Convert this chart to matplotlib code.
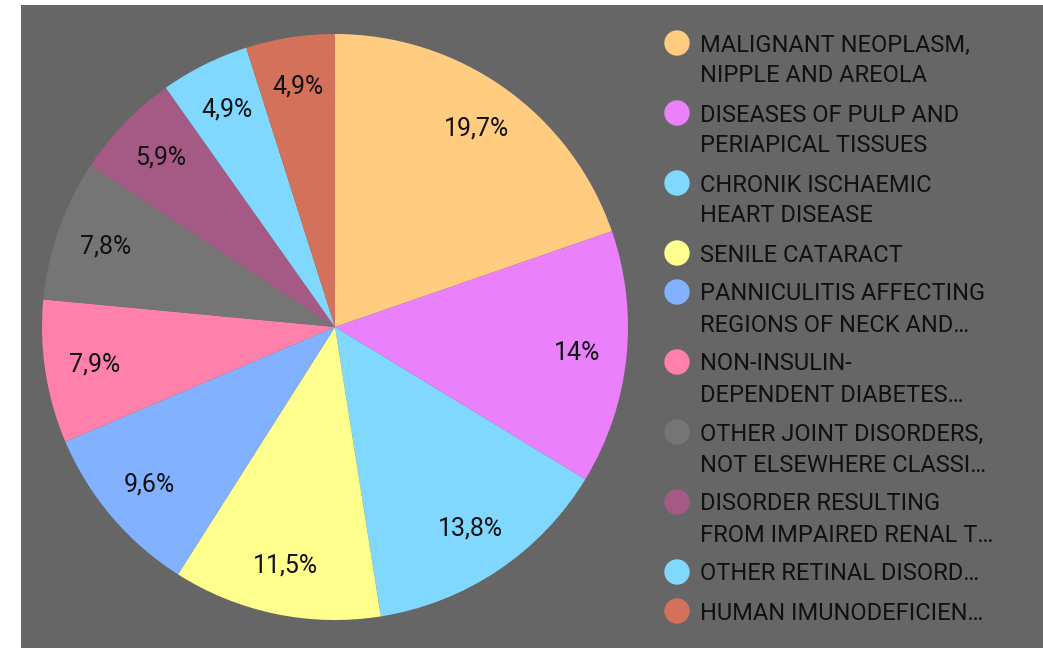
import matplotlib.pyplot as plt
from matplotlib.patches import Ellipse
import numpy as np

plt.rcParams['font.family'] = ['Roboto', 'DejaVu Sans']

# data
labels = [
    "MALIGNANT NEOPLASM,\nNIPPLE AND AREOLA",
    "DISEASES OF PULP AND\nPERIAPICAL TISSUES",
    "CHRONIK ISCHAEMIC\nHEART DISEASE",
    "SENILE CATARACT",
    "PANNICULITIS AFFECTING\nREGIONS OF NECK AND…",
    "NON-INSULIN-\nDEPENDENT DIABETES…",
    "OTHER JOINT DISORDERS,\nNOT ELSEWHERE CLASSI…",
    "DISORDER RESULTING\nFROM IMPAIRED RENAL T…",
    "OTHER RETINAL DISORD…",
    "HUMAN IMUNODEFICIEN…",
]
values = [19.7, 14, 13.8, 11.5, 9.6, 7.9, 7.8, 5.9, 4.9, 4.9]
colors = ["#FFCC80", "#EA80FC", "#80D8FF", "#FFFF8D", "#82B1FF",
          "#FF80AB", "#757575", "#A55A85", "#80D8FF", "#D4715A"]

W, H = 1043, 648
FS = 18       # slice labels
FS_LEG = 17   # legend
fig = plt.figure(figsize=(W / 100, H / 100), dpi=100, facecolor="white")

# gray panel
bg = fig.add_axes([21 / W, 0, 1 - 21 / W, 643 / H])
bg.set_facecolor("#666666")
bg.set_xticks([])
bg.set_yticks([])
for s in bg.spines.values():
    s.set_visible(False)

# pie
cx, cy, r = 335, 327, 293
ax = fig.add_axes([(cx - r) / W, (H - cy - r) / H, 2 * r / W, 2 * r / H])
ax.set_facecolor("none")


def fmt(v):
    s = ("%.1f" % v).replace(".", ",")
    if s.endswith(",0"):
        s = s[:-2]
    return s + "%"


ax.pie(values, colors=colors, startangle=90, counterclock=False,
       radius=1, wedgeprops=dict(linewidth=0))
total = sum(values)
start = 90.0
for v in values:
    mid = start - v / total * 180
    ax.text(0.83 * np.cos(np.radians(mid)), 0.83 * np.sin(np.radians(mid)),
            fmt(v), ha="center", va="center", fontsize=FS, color="#111111")
    start -= v / total * 360
ax.set_xlim(-1, 1)
ax.set_ylim(-1, 1)
ax.set_aspect("equal")
ax.axis("off")

# legend drawn by hand
y = 45
for lab, c in zip(labels, colors):
    lines = lab.split("\n")
    fig.patches.append(Ellipse((677 / W, (H - y + 2) / H), 24 / W, 24 / H,
                               transform=fig.transFigure, color=c))
    for i, ln in enumerate(lines):
        fig.text(700 / W, (H - y - 31 * i) / H, ln, ha="left", va="center",
                 fontsize=FS_LEG, color="#111111")
    y += 31 * (len(lines) - 1) + 39

plt.savefig("out.png", dpi=100)
plt.close()
